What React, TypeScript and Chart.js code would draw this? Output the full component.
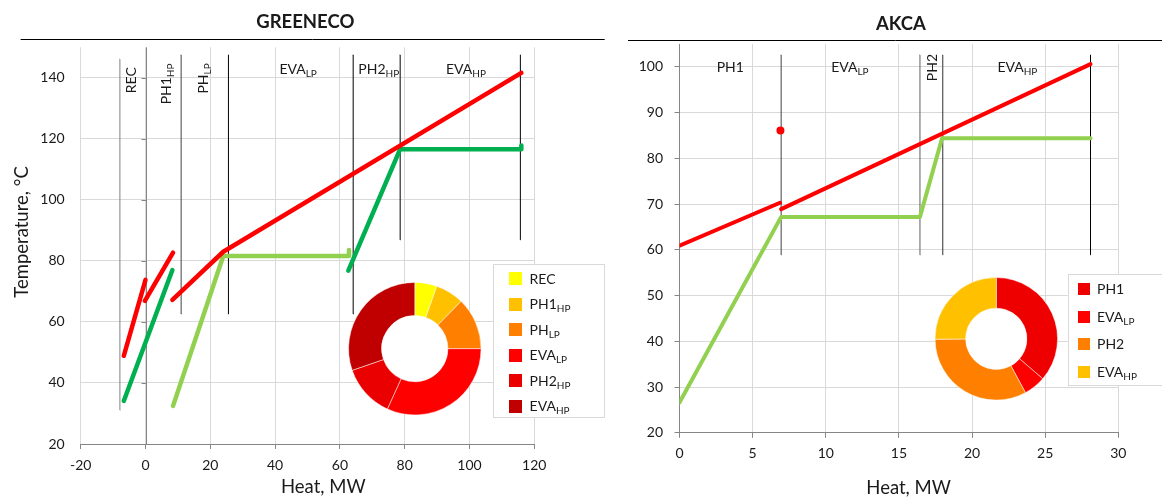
import React, { useEffect, useRef } from 'react';
import { Chart, registerables } from 'chart.js';

Chart.register(...registerables);

type Pt = { x: number; y: number };

// ---------------- GREENECO (left) data ----------------
const greenecoXTicks = [-20, 0, 20, 40, 60, 80, 100, 120];
const greenecoYTicks = [20, 40, 60, 80, 100, 120, 140];
const greenecoHot1: Pt[] = [{ x: -6.7, y: 48.9 }, { x: 0, y: 73.8 }];
const greenecoHot2: Pt[] = [{ x: -0.2, y: 66.9 }, { x: 8.5, y: 82.7 }];
const greenecoHot3: Pt[] = [{ x: 8.3, y: 67.2 }, { x: 24.0, y: 83.0 }, { x: 116.0, y: 141.6 }];
const greenecoColdHP1: Pt[] = [{ x: -6.7, y: 34.1 }, { x: 8.3, y: 77.0 }];
const greenecoColdHP2: Pt[] = [{ x: 62.6, y: 76.8 }, { x: 78.6, y: 116.6 }, { x: 116.0, y: 116.6 }, { x: 116.0, y: 117.8 }];
const greenecoColdLP: Pt[] = [{ x: 8.5, y: 32.5 }, { x: 24.0, y: 81.6 }, { x: 62.8, y: 81.6 }, { x: 62.8, y: 83.6 }];
const greenecoSectionX = [-7.9, 11.0, 25.6, 64.1, 78.6, 115.7];
const greenecoSectionBottom = [31.1, 62.6, 62.6, 62.6, 86.9, 86.9];
const greenecoSectionTop = [146.1, 147.5, 147.5, 147.5, 147.5, 147.5];
const greenecoNames = ['REC', 'PH1', 'PH', 'EVA', 'PH2', 'EVA'];
const greenecoSubs = ['', 'HP', 'LP', 'LP', 'HP', 'HP'];
const greenecoLabelX = [-4.5, 6.2, 17.8, 47.1, 72.0, 98.9];
const greenecoLabelY = [139.2, 138.0, 139.8, 143.0, 143.0, 143.0];
const greenecoShares = [5.4, 6.9, 12.7, 31.8, 12.9, 30.3];

// ---------------- AKCA (right) data ----------------
const akcaXTicks = [0, 5, 10, 15, 20, 25, 30];
const akcaYTicks = [20, 30, 40, 50, 60, 70, 80, 90, 100];
const akcaHot1: Pt[] = [{ x: 0, y: 60.9 }, { x: 6.87, y: 70.3 }];
const akcaHot2: Pt[] = [{ x: 6.95, y: 68.9 }, { x: 28.1, y: 100.6 }];
const akcaHotPoint: Pt[] = [{ x: 6.9, y: 86.1 }];
const akcaCold: Pt[] = [{ x: 0, y: 26.6 }, { x: 6.95, y: 67.2 }, { x: 16.44, y: 67.2 }, { x: 17.95, y: 84.4 }, { x: 28.1, y: 84.4 }];
const akcaSectionX = [6.95, 16.44, 18.0, 28.1];
const akcaSectionBottom = [58.9, 58.9, 58.9, 58.9];
const akcaSectionTop = [102.6, 102.6, 102.6, 102.6];
const akcaNames = ['PH1', 'EVA', 'PH2', 'EVA'];
const akcaSubs = ['', 'LP', '', 'HP'];
const akcaLabelX = [3.47, 11.65, 17.23, 23.1];
const akcaLabelY = [100.0, 100.0, 99.85, 100.0];
const akcaShares = [36.3, 5.8, 32.8, 25.1];

// ---------------- styles ----------------
const FONT = 'Lato, "Open Sans", sans-serif';
const TEXT = '#1a1a1a';
const GRID = '#d9d9d9';
const AXIS = '#868686';
const RED = '#ff0000';
const DKGREEN = '#00b050';
const LTGREEN = '#92d050';
const greenecoSectionColors = ['#808080', '#404040', '#000000', '#000000', '#000000', '#000000'];
const greenecoLabelRotated = [true, true, true, false, false, false];
const greenecoDonutColors = ['#ffff00', '#ffc000', '#ff8000', '#ff0000', '#ea0000', '#c00000'];
const akcaSectionColors = ['#404040', '#606060', '#303030', '#000000'];
const akcaLabelRotated = [false, false, true, false];
const akcaDonutColors = ['#ee0000', '#ff0000', '#ff7f00', '#ffc000'];

function drawSub(
  ctx: CanvasRenderingContext2D,
  main: string,
  sub: string,
  x: number,
  y: number,
  rotated: boolean,
  align: 'center' | 'left',
  size = 14,
  subSize = 10,
) {
  ctx.save();
  ctx.translate(x, y);
  if (rotated) ctx.rotate(-Math.PI / 2);
  ctx.fillStyle = TEXT;
  ctx.textAlign = 'left';
  ctx.textBaseline = 'alphabetic';
  ctx.font = `${size}px ${FONT}`;
  const mw = ctx.measureText(main).width;
  ctx.font = `${subSize}px ${FONT}`;
  const sw = sub ? ctx.measureText(sub).width : 0;
  const x0 = align === 'center' ? -(mw + sw) / 2 : 0;
  const base = size * 0.36;
  ctx.font = `${size}px ${FONT}`;
  ctx.fillText(main, x0, base);
  if (sub) {
    ctx.font = `${subSize}px ${FONT}`;
    ctx.fillText(sub, x0 + mw, base + 3);
  }
  ctx.restore();
}

function drawText(ctx: CanvasRenderingContext2D, text: string, x: number, y: number, font: string, rotated = false) {
  ctx.save();
  ctx.translate(x, y);
  if (rotated) ctx.rotate(-Math.PI / 2);
  ctx.font = font;
  ctx.fillStyle = TEXT;
  ctx.textAlign = 'center';
  ctx.textBaseline = 'middle';
  ctx.fillText(text, 0, 0);
  ctx.restore();
}

function lineDs(data: Pt[], color: string, width: number) {
  return {
    data,
    showLine: true,
    borderColor: color,
    backgroundColor: color,
    borderWidth: width,
    pointRadius: 0,
    pointHoverRadius: 0,
    borderCapStyle: 'round',
    borderJoinStyle: 'round',
    tension: 0,
    fill: false,
  };
}

function sectionDs(xs: number[], bottoms: number[], tops: number[], colors: string[]) {
  return xs.map((x, i) => lineDs([{ x, y: bottoms[i] }, { x, y: tops[i] }], colors[i], 1));
}

interface DecorOpts {
  title: string;
  titleX: number;
  titleY: number;
  ruleX0: number;
  ruleX1: number;
  ruleY: number;
  xTitleX: number;
  xTitleY: number;
  yTitle?: string;
  yTitleX?: number;
  yTitleY?: number;
  zeroAxis: boolean;
  yTicks: number[];
  names: string[];
  subs: string[];
  labelX: number[];
  labelY: number[];
  rotated: boolean[];
}

function decorPlugin(o: DecorOpts) {
  return {
    id: 'decor',
    beforeDatasetsDraw(chart: any) {
      if (!o.zeroAxis) return;
      const { ctx, chartArea, scales } = chart;
      const x = Math.round(scales.x.getPixelForValue(0)) + 0.5;
      ctx.save();
      ctx.strokeStyle = AXIS;
      ctx.lineWidth = 1;
      ctx.beginPath();
      ctx.moveTo(x, chartArea.top);
      ctx.lineTo(x, chartArea.bottom);
      for (const v of o.yTicks) {
        const y = Math.round(scales.y.getPixelForValue(v)) + 0.5;
        ctx.moveTo(x - 5, y);
        ctx.lineTo(x, y);
      }
      ctx.stroke();
      ctx.restore();
    },
    afterDraw(chart: any) {
      const { ctx, scales } = chart;
      drawText(ctx, o.title, o.titleX, o.titleY, `bold 18.5px ${FONT}`);
      ctx.save();
      ctx.strokeStyle = '#000000';
      ctx.lineWidth = 1;
      ctx.beginPath();
      ctx.moveTo(o.ruleX0, o.ruleY);
      ctx.lineTo(o.ruleX1, o.ruleY);
      ctx.stroke();
      ctx.restore();
      drawText(ctx, 'Heat, MW', o.xTitleX, o.xTitleY, `18.5px ${FONT}`);
      if (o.yTitle) drawText(ctx, o.yTitle, o.yTitleX!, o.yTitleY!, `18.5px ${FONT}`, true);
      o.names.forEach((n, i) => {
        const px = scales.x.getPixelForValue(o.labelX[i]);
        const py = scales.y.getPixelForValue(o.labelY[i]);
        drawSub(ctx, n, o.subs[i], px, py, o.rotated[i], 'center');
      });
    },
  };
}

function scaleOpts(
  min: number,
  max: number,
  ticks: number[],
  extra: { size: (s: any) => void; pad: number; border: boolean; drawTicks: boolean },
) {
  return {
    type: 'linear',
    min,
    max,
    afterBuildTicks: (s: any) => {
      s.ticks = ticks.map((v) => ({ value: v }));
    },
    afterFit: extra.size,
    ticks: {
      autoSkip: false,
      maxRotation: 0,
      padding: extra.pad,
      color: TEXT,
      font: { family: FONT, size: 14 },
    },
    grid: { color: GRID, tickColor: AXIS, tickLength: 5, drawTicks: extra.drawTicks },
    border: { display: extra.border, color: AXIS, width: 1 },
  };
}

function legendPlugin(
  names: string[],
  subs: string[],
  colors: string[],
  box: { x: number; y: number; w: number; h: number },
  first: number,
  step: number,
  swX: number,
  sw: number,
  textX: number,
) {
  return {
    id: 'subLegend',
    afterDraw(chart: any) {
      const ctx: CanvasRenderingContext2D = chart.ctx;
      ctx.save();
      ctx.fillStyle = '#ffffff';
      ctx.fillRect(box.x, box.y, box.w, box.h);
      ctx.strokeStyle = GRID;
      ctx.lineWidth = 1;
      ctx.strokeRect(Math.round(box.x) + 0.5, Math.round(box.y) + 0.5, Math.round(box.w), Math.round(box.h));
      names.forEach((n, i) => {
        const cy = first + step * i;
        ctx.fillStyle = colors[i];
        ctx.fillRect(swX, Math.round(cy - sw / 2), sw, sw);
        drawSub(ctx, n, subs[i], textX, cy, false, 'left');
      });
      ctx.restore();
    },
  };
}

const holePlugin = {
  id: 'hole',
  beforeDatasetsDraw(chart: any) {
    const arc = chart.getDatasetMeta(0).data[0];
    if (!arc) return;
    const ctx = chart.ctx;
    ctx.save();
    ctx.fillStyle = '#ffffff';
    ctx.beginPath();
    ctx.arc(arc.x, arc.y, arc.innerRadius + 0.5, 0, Math.PI * 2);
    ctx.fill();
    ctx.restore();
  },
};

function donutConfig(values: number[], colors: string[], names: string[], subs: string[], padding: any, legend: any) {
  return {
    type: 'doughnut',
    data: {
      labels: names.map((n, i) => n + subs[i]),
      datasets: [{ data: values, backgroundColor: colors, borderColor: '#ffffff', borderWidth: 0.5 }],
    },
    options: {
      responsive: false,
      animation: false,
      devicePixelRatio: 1,
      events: [],
      cutout: '50%',
      layout: { padding },
      plugins: { legend: { display: false }, tooltip: { enabled: false } },
    },
    plugins: [holePlugin, legend],
  };
}

export default function App() {
  const leftRef = useRef<HTMLCanvasElement>(null);
  const rightRef = useRef<HTMLCanvasElement>(null);
  const leftDonutRef = useRef<HTMLCanvasElement>(null);
  const rightDonutRef = useRef<HTMLCanvasElement>(null);

  useEffect(() => {
    const charts: Chart[] = [];

    const leftCfg: any = {
      type: 'scatter',
      data: {
        datasets: [
          lineDs(greenecoHot1, RED, 4.5),
          lineDs(greenecoHot2, RED, 4.5),
          lineDs(greenecoHot3, RED, 4.5),
          lineDs(greenecoColdHP1, DKGREEN, 4.5),
          lineDs(greenecoColdHP2, DKGREEN, 4.5),
          lineDs(greenecoColdLP, LTGREEN, 4.5),
          ...sectionDs(greenecoSectionX, greenecoSectionBottom, greenecoSectionTop, greenecoSectionColors),
        ],
      },
      options: {
        responsive: false,
        animation: false,
        devicePixelRatio: 1,
        events: [],
        layout: { padding: { left: 0, right: 80.7, top: 47.3, bottom: 0 } },
        plugins: { legend: { display: false }, tooltip: { enabled: false } },
        scales: {
          x: scaleOpts(-20, 120, greenecoXTicks, { size: (s: any) => { s.height = 53; }, pad: 8, border: true, drawTicks: true }),
          y: scaleOpts(20, 150, greenecoYTicks, { size: (s: any) => { s.width = 80.7; }, pad: 16, border: false, drawTicks: false }),
        },
      },
      plugins: [
        decorPlugin({
          title: 'GREENECO',
          titleX: 305.3,
          titleY: 21.7,
          ruleX0: 20.6,
          ruleX1: 604.7,
          ruleY: 39.5,
          xTitleX: 323.3,
          xTitleY: 487,
          yTitle: 'Temperature, °C',
          yTitleX: 21.7,
          yTitleY: 232,
          zeroAxis: true,
          yTicks: greenecoYTicks,
          names: greenecoNames,
          subs: greenecoSubs,
          labelX: greenecoLabelX,
          labelY: greenecoLabelY,
          rotated: greenecoLabelRotated,
        }),
      ],
    };

    const rightCfg: any = {
      type: 'scatter',
      data: {
        datasets: [
          lineDs(akcaHot1, RED, 4),
          lineDs(akcaHot2, RED, 4),
          { data: akcaHotPoint, showLine: false, pointRadius: 4, pointHoverRadius: 4, backgroundColor: RED, borderColor: RED, borderWidth: 0 },
          lineDs(akcaCold, LTGREEN, 4),
          ...sectionDs(akcaSectionX, akcaSectionBottom, akcaSectionTop, akcaSectionColors),
        ],
      },
      options: {
        responsive: false,
        animation: false,
        devicePixelRatio: 1,
        events: [],
        layout: { padding: { left: 0, right: 43.7, top: 44, bottom: 0 } },
        plugins: { legend: { display: false }, tooltip: { enabled: false } },
        scales: {
          x: scaleOpts(0, 30, akcaXTicks, { size: (s: any) => { s.height = 64.2; }, pad: 7, border: true, drawTicks: true }),
          y: scaleOpts(20, 105, akcaYTicks, { size: (s: any) => { s.width = 64.5; }, pad: 11.5, border: true, drawTicks: true }),
        },
      },
      plugins: [
        decorPlugin({
          title: 'AKCA',
          titleX: 285.9,
          titleY: 24.2,
          ruleX0: 13,
          ruleX1: 548,
          ruleY: 40.5,
          xTitleX: 293.6,
          xTitleY: 488,
          zeroAxis: false,
          yTicks: akcaYTicks,
          names: akcaNames,
          subs: akcaSubs,
          labelX: akcaLabelX,
          labelY: akcaLabelY,
          rotated: akcaLabelRotated,
        }),
      ],
    };

    const leftDonutCfg: any = donutConfig(
      greenecoShares,
      greenecoDonutColors,
      greenecoNames,
      greenecoSubs,
      { left: 8.3, top: 24.2, right: 128.7, bottom: 6.8 },
      legendPlugin(greenecoNames, greenecoSubs, greenecoDonutColors, { x: 153, y: 6, w: 110.6, h: 153.3 }, 20.5, 25.55, 169, 13, 189.6),
    );

    const rightDonutCfg: any = donutConfig(
      akcaShares,
      akcaDonutColors,
      akcaNames,
      akcaSubs,
      { left: 9.8, top: 9.3, right: 104.2, bottom: 4.7 },
      legendPlugin(akcaNames, akcaSubs, akcaDonutColors, { x: 142.6, y: 6.3, w: 96, h: 110.7 }, 21, 27.6, 153, 12, 172),
    );

    if (leftRef.current) charts.push(new Chart(leftRef.current, leftCfg));
    if (rightRef.current) charts.push(new Chart(rightRef.current, rightCfg));
    if (leftDonutRef.current) charts.push(new Chart(leftDonutRef.current, leftDonutCfg));
    if (rightDonutRef.current) charts.push(new Chart(rightDonutRef.current, rightDonutCfg));

    return () => {
      charts.forEach((c) => c.destroy());
    };
  }, []);

  const abs = (left: number, top: number, width: number, height: number): React.CSSProperties => ({
    position: 'absolute',
    left,
    top,
    width,
    height,
  });

  return (
    <div style={{ position: 'absolute', left: 0, top: 0, width: 1162, height: 497, background: '#ffffff', overflow: 'hidden' }}>
      <canvas ref={leftRef} width={615} height={497} style={abs(0, 0, 615, 497)} />
      <canvas ref={rightRef} width={547} height={497} style={abs(615, 0, 547, 497)} />
      <canvas ref={leftDonutRef} width={270} height={164} style={abs(340, 258, 270, 164)} />
      <canvas ref={rightDonutRef} width={237} height={137} style={abs(925, 268, 237, 137)} />
    </div>
  );
}
